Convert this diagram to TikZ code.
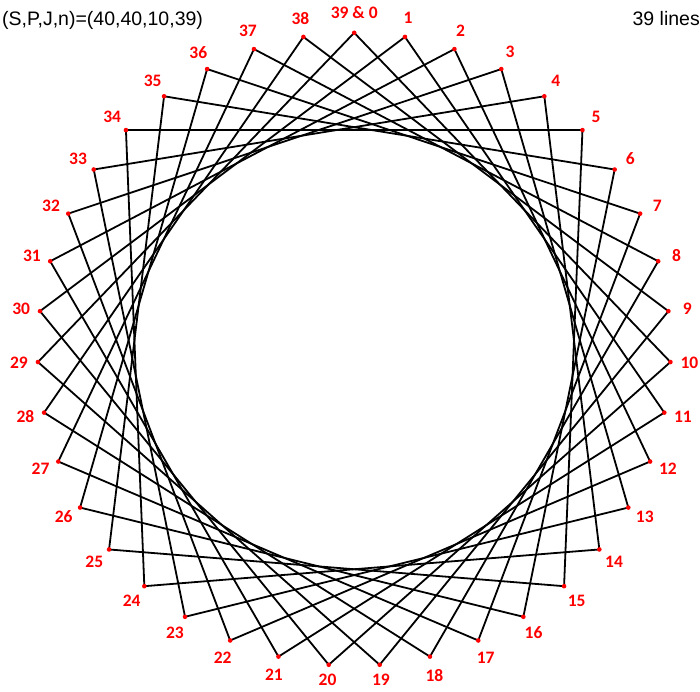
\documentclass[tikz,border=0pt]{standalone}
\usepackage{fontspec}
\setmainfont{Liberation Sans}
\newfontfamily\labelfont{Carlito}
\usepackage{tikz}
\usetikzlibrary{calc}
\definecolor{pinRed}{RGB}{255,0,0}

\begin{document}
\begin{tikzpicture}[x=1pt, y=1pt,
  thread/.style={draw, line width=1.8pt, line cap=round},
  pin/.style={circle, fill=pinRed, inner sep=0pt, minimum size=4.6pt},
  pinlabel/.style={text=pinRed, font=\labelfont\bfseries\fontsize{17.5}{20}\selectfont, inner sep=0pt},
  caption/.style={font=\fontsize{19.5}{23}\selectfont, inner sep=0pt}]
  \useasboundingbox (-354.2,-341.7) rectangle (345.8,349.3);
  \pgfmathsetmacro{\rad}{316.5}
  % pins on the circle
  \foreach \i in {0,...,38}
    \coordinate (p\i) at ({90-\i*360/39}:\rad);
  % threads: pin i to pin i+10
  \foreach \i in {0,...,38} {
    \pgfmathtruncatemacro{\j}{mod(\i+10,39)}
    \draw[thread] (p\i) -- (p\j);
  }
  \foreach \i in {0,...,38}
    \node[pin] (d\i) at (p\i) {};
  % labels (bottom ones kept inside the page)
  \foreach \i in {1,...,38} {
    \pgfmathsetmacro{\off}{(\i==19 || \i==20) ? 15 : 19}
    \node[pinlabel] (l\i) at ({90-\i*360/39}:{\rad+\off}) {\i};
  }
  \node[pinlabel] (l0) at (90:{\rad+20}) {39 \& 0};
  \node[caption, anchor=base west] (params) at (-352.2,323.3) {(S,P,J,n)=(40,40,10,39)};
  \node[caption, anchor=base east] (count) at (345.8,323.3) {39 lines};
\end{tikzpicture}
\end{document}
